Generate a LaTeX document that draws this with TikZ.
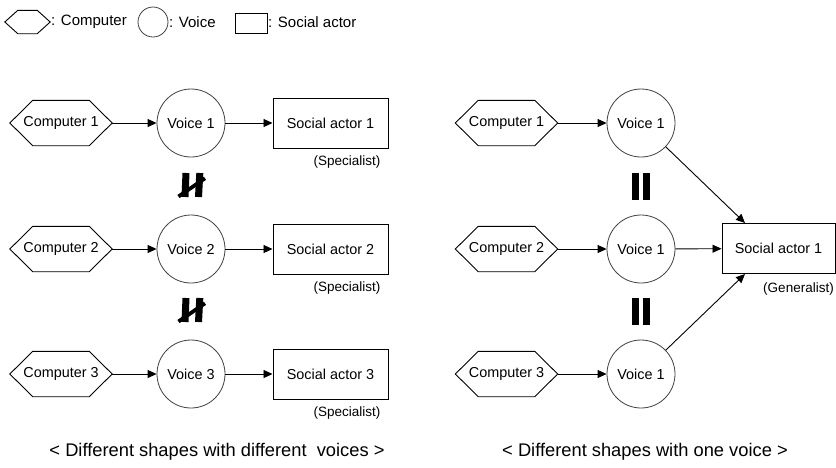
\documentclass[tikz,border=0pt]{standalone}
\usepackage{fontspec}
\setmainfont{Liberation Sans}
\usetikzlibrary{arrows.meta}
\newcommand{\hexa}[2]{%
  \draw[hexline] (#1.west) -- ([xshift=#2]#1.north west) -- ([xshift=-#2]#1.north east) -- (#1.east)
    -- ([xshift=-#2]#1.south east) -- ([xshift=#2]#1.south west) -- cycle;}
\tikzset{
  x=1pt,y=-1pt,
  hexline/.style={draw, line width=0.9pt, line join=miter},
  comp/.style={rectangle, minimum width=102pt, minimum height=45pt, inner sep=0pt,
    font=\fontsize{14.4}{17}\selectfont},
  voice/.style={circle, draw=black!75, line width=0.8pt, minimum size=68pt, inner sep=0pt,
    font=\fontsize{14.4}{17}\selectfont},
  actor/.style={rectangle, draw, line width=0.95pt, minimum width=115pt, minimum height=50pt,
    inner sep=0pt, font=\fontsize{14.4}{17}\selectfont},
  lbl/.style={inner sep=0pt, font=\fontsize{13.5}{16}\selectfont},
  captxt/.style={inner sep=0pt, font=\fontsize{18.3}{22}\selectfont},
  leg/.style={inner sep=0pt, anchor=west, font=\fontsize{15}{18}\selectfont},
  conn/.style={line width=0.9pt, -{Triangle[length=9pt,width=8pt]}},
  bar/.style={line width=7pt},
  slash/.style={line width=3.8pt},
}
\begin{document}
\begin{tikzpicture}
\useasboundingbox (0,0) rectangle (836,467);
% legend
\node[rectangle, minimum width=45pt, minimum height=23pt, inner sep=0pt] (lh) at (27.5,22) {};
\hexa{lh}{13pt}
\node[leg] (lht) at (51,22) {: Computer};
\node[circle, draw=black!75, line width=0.8pt, minimum size=30pt, inner sep=0pt] (lc) at (153,22) {};
\node[leg] (lct) at (169,22) {: Voice};
\node[rectangle, draw, line width=0.9pt, minimum width=32pt, minimum height=20pt, inner sep=0pt] (lr) at (251,23) {};
\node[leg] (lrt) at (268,22) {: Social actor};

% left column
\foreach \i/\y in {1/123,2/249,3/374}{
  \node[comp] (c\i) at (61,\y) {Computer \i};
  \hexa{c\i}{23pt}
  \node[voice] (v\i) at (191,\y) {Voice \i};
  \node[actor] (s\i) at (330.5,\y) {Social actor \i};
  \node[lbl] (sp\i) at ([xshift=16.5pt,yshift=-14pt]s\i.south) {(Specialist)};
  \draw[conn] (c\i.east) -- (v\i);
  \draw[conn] (v\i) -- (s\i);
}
% not-equal symbols
\foreach \dy in {0,125}{
  \begin{scope}[yshift=-\dy pt]
    \draw[bar] (186,173) -- (185,197);
    \draw[bar] (199.8,173) -- (198.5,197);
    \draw[slash] (178.5,196.5) -- (205,178.3);
  \end{scope}
}

% right column
\node[actor, minimum width=113pt] (sr) at (778.5,248.5) {Social actor 1};
\node[lbl] (gen) at ([xshift=20pt,yshift=-15pt]sr.south) {(Generalist)};
\coordinate (srt) at ([xshift=-33.5pt]sr.north);
\coordinate (srb) at ([xshift=-33.5pt]sr.south);
\foreach \i/\y in {1/123,2/249,3/374}{
  \node[comp] (rc\i) at (506.5,\y) {Computer \i};
  \hexa{rc\i}{23pt}
  \node[voice] (rv\i) at (641,\y) {Voice 1};
  \draw[conn] (rc\i.east) -- (rv\i);
}
\draw[conn] (rv1) -- (srt);
\draw[conn] (rv2) -- (sr);
\draw[conn] (rv3) -- (srb);
% equal symbols
\foreach \dy in {0,125}{
  \begin{scope}[yshift=-\dy pt]
    \draw[bar] (635.5,173) -- (635.5,200);
    \draw[bar] (646.5,173) -- (646.5,200);
  \end{scope}
}

% captions
\node[captxt] (capl) at (217,452) {< Different shapes with different\ \ voices >};
\node[captxt] (capr) at (645,452) {< Different shapes with one voice >};
\end{tikzpicture}
\end{document}
